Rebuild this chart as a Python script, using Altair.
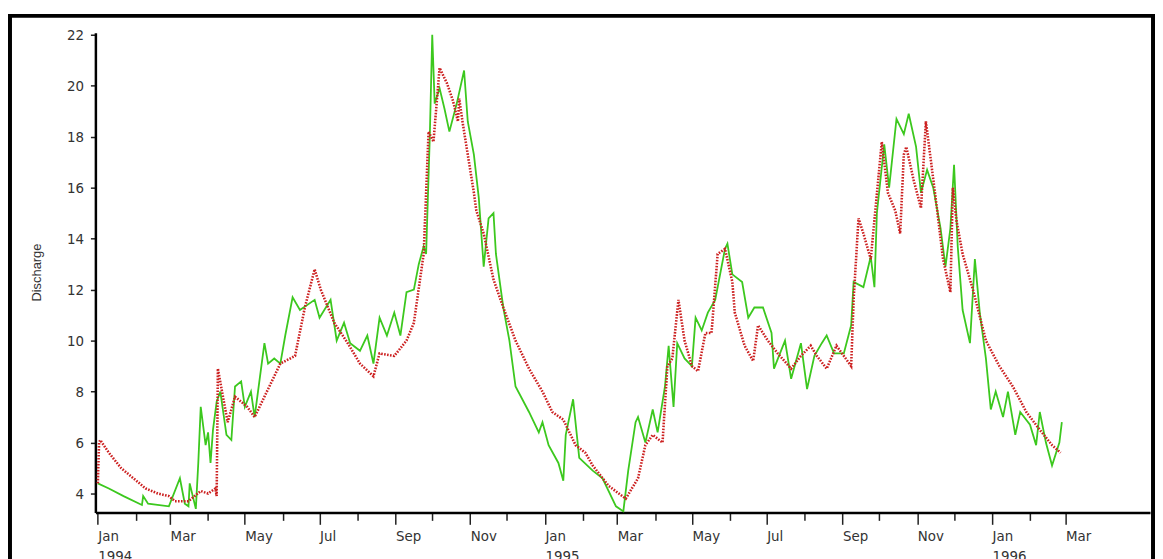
import altair as alt
import pandas as pd

START = pd.Timestamp("1994-01-01")

# Observed discharge (green), day offsets from 1994-01-01 and values
green_days = [0, 9, 21, 36, 37, 41, 58, 67, 71, 74, 75, 80, 82, 84, 88, 90, 92, 94, 97, 100,
              105, 109, 112, 117, 120, 125, 128, 136, 139, 144, 149, 153, 159, 165, 177, 181, 190, 195, 201, 206,
              214, 220, 225, 230, 236, 242, 247, 252, 258, 262, 266, 268, 271, 273, 275, 279, 283, 287, 293, 299,
              302, 307, 311, 315, 319, 323, 325, 331, 336, 341, 352, 360, 363, 368, 376, 380, 382, 388, 393, 404,
              412, 423, 429, 433, 439, 441, 447, 453, 457, 463, 466, 470, 473, 479, 485, 488, 493, 498, 504, 512,
              514, 518, 526, 531, 536, 543, 550, 552, 561, 566, 574, 579, 585, 591, 595, 601, 609, 615, 617, 625,
              631, 634, 636, 642, 646, 652, 658, 662, 668, 672, 677, 682, 688, 692, 696, 699, 702, 706, 712, 716,
              720, 725, 729, 733, 739, 743, 749, 753, 761, 766, 769, 774, 779, 785, 787]
green_vals = [4.4, 4.2, 3.9, 3.55, 3.9, 3.6, 3.5, 4.6, 3.6, 3.5, 4.4, 3.4, 5.2, 7.4, 5.9, 6.4, 5.2, 6.5, 7.6, 8.0,
              6.3, 6.1, 8.2, 8.4, 7.4, 8.0, 7.0, 9.9, 9.1, 9.3, 9.1, 10.2, 11.7, 11.2, 11.6, 10.9, 11.6, 10.0, 10.7, 9.9,
              9.6, 10.2, 9.1, 10.9, 10.2, 11.1, 10.2, 11.9, 12.0, 13.0, 13.7, 13.4, 18.0, 22.0, 19.3, 19.9, 19.1, 18.2, 19.3, 20.6,
              18.6, 17.3, 15.6, 12.9, 14.8, 15.0, 13.4, 11.3, 10.0, 8.2, 7.2, 6.4, 6.8, 5.9, 5.2, 4.5, 6.3, 7.7, 5.4, 4.9,
              4.6, 3.5, 3.3, 4.9, 6.8, 7.0, 6.0, 7.3, 6.4, 8.2, 9.8, 7.4, 9.9, 9.3, 9.0, 10.9, 10.4, 11.1, 11.6, 13.6,
              13.8, 12.6, 12.3, 10.9, 11.3, 11.3, 10.3, 8.9, 10.0, 8.5, 9.9, 8.1, 9.4, 9.9, 10.2, 9.5, 9.5, 10.6, 12.3, 12.1,
              13.3, 12.1, 15.0, 17.7, 16.0, 18.7, 18.1, 18.9, 17.6, 15.8, 16.7, 16.0, 14.4, 12.9, 14.4, 16.9, 13.7, 11.2, 9.9, 13.2,
              11.1, 9.3, 7.3, 8.0, 7.0, 8.0, 6.3, 7.2, 6.7, 5.9, 7.2, 6.0, 5.1, 6.0, 6.8]

# Simulated discharge (red dotted)
red_days = [0, 1, 2, 9, 19, 29, 39, 49, 58, 63, 74, 84, 90, 96, 97, 98, 101, 106, 112, 117,
            122, 128, 139, 149, 161, 169, 177, 182, 193, 204, 214, 225, 230, 242, 252, 258, 266, 270, 274, 279,
            285, 290, 294, 295, 298, 307, 309, 315, 323, 331, 341, 352, 363, 371, 380, 390, 398, 404, 417, 431,
            436, 441, 447, 453, 461, 465, 469, 474, 479, 485, 490, 496, 501, 506, 512, 518, 520, 528, 535, 539,
            547, 555, 566, 574, 582, 587, 595, 603, 615, 617, 621, 625, 631, 640, 645, 651, 655, 658, 660, 666,
            672, 676, 680, 685, 690, 696, 698, 701, 706, 715, 725, 736, 747, 758, 769, 779, 786]
red_vals = [4.4, 6.0, 6.1, 5.6, 5.0, 4.6, 4.2, 4.0, 3.9, 3.7, 3.7, 4.1, 4.0, 4.2, 3.9, 8.9, 8.1, 6.8, 7.8, 7.6,
            7.4, 7.0, 8.1, 9.1, 9.4, 11.3, 12.8, 12.0, 10.7, 9.9, 9.1, 8.6, 9.5, 9.4, 10.0, 10.7, 13.4, 18.2, 17.8, 20.7,
            20.1, 19.4, 18.6, 19.5, 18.5, 15.8, 15.1, 14.2, 12.4, 11.3, 10.0, 8.9, 8.0, 7.2, 6.9, 5.9, 5.6, 5.1, 4.3, 3.8,
            4.2, 4.6, 5.9, 6.3, 6.0, 9.0, 9.3, 11.6, 10.0, 9.0, 8.8, 10.3, 10.3, 13.4, 13.6, 12.3, 11.1, 9.8, 9.2, 10.6,
            10.0, 9.5, 8.9, 9.4, 9.8, 9.4, 8.9, 9.8, 9.0, 11.6, 14.8, 14.2, 13.2, 17.8, 15.8, 15.1, 14.2, 17.3, 17.6, 16.3,
            15.2, 18.6, 17.1, 15.2, 13.2, 11.9, 16.0, 14.7, 13.4, 11.9, 10.0, 9.0, 8.2, 7.2, 6.5, 5.9, 5.6]

y_ticks = [4, 6, 8, 10, 12, 14, 16, 18, 20, 22]
x_tick_dates = list(pd.date_range("1994-01-01", "1996-03-01", freq="MS"))


def to_ms(ts):
    return int(pd.Timestamp(ts).value // 10**6)


def frame(days, vals, series):
    return pd.DataFrame({
        "date": [(START + pd.Timedelta(days=d)).strftime("%Y-%m-%d") for d in days],
        "value": vals,
        "series": series,
    })


green_df = frame(green_days, green_vals, "Observed")
red_df = frame(red_days, red_vals, "Simulated")

LABEL_FONT = "Liberation Sans Narrow, Arial Narrow, DejaVu Sans Condensed, Liberation Sans"

x_axis = alt.Axis(
    values=[to_ms(t) for t in x_tick_dates],
    labelExpr="utcmonth(datum.value) % 2 == 0 ? (utcmonth(datum.value) == 0 ? [utcFormat(datum.value, '%b'), utcFormat(datum.value, '%Y')] : utcFormat(datum.value, '%b')) : ''",
    title=None,
    grid=False,
    domainColor="#000000",
    domainWidth=2.5,
    tickColor="#222222",
    tickWidth=1.5,
    tickSize={"condition": {"test": "utcmonth(datum.value) % 2 == 0", "value": 12}, "value": 8},
    labelAlign="left",
    labelBaseline="top",
    labelPadding=4,
    labelFont=LABEL_FONT,
    labelFontSize=15,
    labelColor="#333333",
    labelLineHeight=20,
    labelOverlap=False,
    labelFlush=False,
)

y_axis = alt.Axis(
    values=y_ticks,
    title="Discharge",
    titleFont="Liberation Sans",
    titleFontSize=13,
    titleFontWeight="normal",
    titleColor="#333333",
    titleX=-59,
    titleY=241,
    titleAngle=-90,
    titleAlign="center",
    titleBaseline="middle",
    grid=False,
    domainColor="#000000",
    domainWidth=2.5,
    tickColor="#222222",
    tickWidth=1.5,
    tickSize=5,
    labelPadding=7,
    labelFont=LABEL_FONT,
    labelFontSize=15,
    labelColor="#333333",
)

x_enc = alt.X("date:T", scale=alt.Scale(type="utc", domain=[to_ms("1993-12-30"), to_ms("1996-05-09")]), axis=x_axis)
y_enc = alt.Y("value:Q", scale=alt.Scale(domain=[3.26, 22.08], nice=False, zero=False), axis=y_axis)

green = alt.Chart(green_df).mark_line(color="#3cc81e", strokeWidth=1.8, clip=True).encode(x=x_enc, y=y_enc)
red = alt.Chart(red_df).mark_line(color="#cc2020", strokeWidth=2.6, strokeDash=[1.6, 1.4], clip=True).encode(x=x_enc, y=y_enc)

border = alt.Chart(pd.DataFrame({"k": [0]})).mark_rect(
    fill=None, fillOpacity=0, stroke="#000000", strokeWidth=4
).encode(x=alt.value(-86), x2=alt.value(1065), y=alt.value(-17), y2=alt.value(620))

chart = alt.layer(green, red, border).properties(
    width=1062,
    height=483,
    autosize="none",
    padding={"left": 88, "top": 23, "right": 5, "bottom": 45},
    background="#ffffff",
).configure_view(stroke=None)

chart.save("out.html", embed_options={"renderer": "svg", "actions": False})
